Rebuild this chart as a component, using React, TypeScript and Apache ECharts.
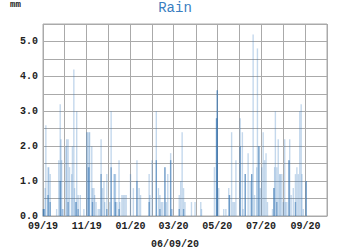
import React, { useEffect, useRef } from "react";
import * as echarts from "echarts";

// Daily rain (mm): faint tall readings
const rainDates = [
  "2019-09-01","2019-09-02","2019-09-03","2019-09-04","2019-09-05","2019-09-08","2019-09-09","2019-09-11","2019-09-20","2019-09-23",
  "2019-09-25","2019-09-26","2019-09-27","2019-09-28","2019-09-29","2019-10-03","2019-10-04","2019-10-06","2019-10-08","2019-10-11",
  "2019-10-12","2019-10-14","2019-10-15","2019-10-17","2019-10-18","2019-10-20","2019-10-23","2019-10-28","2019-11-01","2019-11-02",
  "2019-11-03","2019-11-04","2019-11-05","2019-11-08","2019-11-09","2019-11-11","2019-11-12","2019-11-14","2019-11-17","2019-11-19",
  "2019-11-21","2019-11-23","2019-11-25","2019-11-26","2019-11-29","2019-12-03","2019-12-05","2019-12-09","2019-12-10","2019-12-11",
  "2019-12-13","2019-12-16","2019-12-17","2019-12-20","2019-12-22","2019-12-24","2019-12-26","2020-01-01","2020-01-05","2020-01-10",
  "2020-01-13","2020-01-15","2020-01-27","2020-01-28","2020-01-31","2020-02-06","2020-02-09","2020-02-11","2020-02-13","2020-02-15",
  "2020-02-18","2020-02-20","2020-02-22","2020-02-26","2020-02-27","2020-02-28","2020-03-09","2020-03-11","2020-03-13","2020-03-15",
  "2020-03-17","2020-03-26","2020-03-31","2020-04-08","2020-04-09","2020-04-27","2020-04-30","2020-05-01","2020-05-03","2020-05-10",
  "2020-05-13","2020-05-17","2020-05-18","2020-05-21","2020-05-23","2020-05-25","2020-05-27","2020-06-02","2020-06-05","2020-06-06",
  "2020-06-09","2020-06-13","2020-06-16","2020-06-18","2020-06-20","2020-06-22","2020-06-25","2020-06-26","2020-06-28","2020-06-30",
  "2020-07-02","2020-07-04","2020-07-06","2020-07-08","2020-07-10","2020-07-17","2020-07-19","2020-07-20","2020-07-21","2020-07-23",
  "2020-07-25","2020-07-27","2020-07-28","2020-07-30","2020-08-01","2020-08-03","2020-08-04","2020-08-06","2020-08-09","2020-08-10",
  "2020-08-12","2020-08-15","2020-08-18","2020-08-20","2020-08-22","2020-08-24","2020-08-26","2020-08-27","2020-08-29","2020-09-02"
];
const rainValues = [
  0.2,0.2,0.2,0.8,2.6,1.4,1.4,1.2,0.2,1.6,
  3.2,2.2,1.6,0.2,0.2,2.0,2.2,2.2,1.4,1.2,
  2.0,4.2,0.8,0.4,3.0,0.6,0.6,0.2,2.4,2.4,
  1.4,2.4,2.4,2.0,0.8,0.8,0.6,0.4,0.2,0.2,
  2.2,0.8,1.0,0.4,1.2,0.4,3.0,1.2,1.2,1.2,
  0.4,1.6,0.4,0.6,0.6,0.6,0.6,1.2,0.8,1.6,
  0.8,0.6,1.2,0.6,1.6,3.0,0.8,0.6,0.4,0.4,
  1.4,0.4,1.2,1.8,0.2,0.2,0.6,1.0,2.4,0.8,
  0.4,0.4,0.4,0.4,0.2,1.4,2.8,3.6,0.8,0.2,
  0.2,0.8,0.6,2.4,0.4,0.4,1.6,2.8,2.4,0.2,
  1.2,1.8,1.0,1.2,5.2,0.6,1.4,4.8,2.0,0.8,
  1.4,2.4,1.6,1.8,0.4,0.2,0.8,1.4,3.0,1.4,
  2.2,1.2,1.2,1.2,0.4,2.2,0.4,0.4,1.6,2.2,
  0.6,0.8,1.2,1.4,1.2,3.0,3.2,1.2,0.2,1.0
];

// Darker (steadier) readings on the same days
const baseDates = [
  "2019-09-02","2019-09-08","2019-09-11","2019-09-25","2019-10-06","2019-10-17","2019-10-20","2019-11-04","2019-11-09","2019-11-21",
  "2019-11-29","2019-12-05","2019-12-11","2019-12-16","2020-01-10","2020-01-27","2020-02-06","2020-02-11","2020-02-18","2020-02-26",
  "2020-03-09","2020-03-15","2020-04-30","2020-05-01","2020-05-18","2020-06-02","2020-06-09","2020-06-18","2020-06-28","2020-07-19",
  "2020-07-23","2020-08-09","2020-08-18","2020-09-02"
];
const baseValues = [
  0.2,0.6,0.4,1.0,0.4,0.4,0.2,1.4,0.4,1.2,
  0.2,1.4,0.4,0.2,1.0,0.4,1.6,0.2,1.4,1.6,
  0.2,0.2,2.8,3.6,0.6,2.0,1.2,1.2,2.0,0.8,
  0.4,1.6,0.4,1.0
];

const yTicks = ["0.0", "1.0", "2.0", "3.0", "4.0", "5.0"];
const labelMonths = ["01", "03", "05", "07", "09", "11"];
const startDate = "2019-09-01";
const endDate = "2020-10-01";
const footerText = "06/09/20";

function buildDays(): string[] {
  const out: string[] = [];
  const d = new Date(startDate + "T00:00:00Z");
  const end = new Date(endDate + "T00:00:00Z");
  while (d.getTime() <= end.getTime()) {
    out.push(d.toISOString().slice(0, 10));
    d.setUTCDate(d.getUTCDate() + 1);
  }
  return out;
}

function toSeries(days: string[], dates: string[], values: number[]) {
  const map: Record<string, number> = {};
  dates.forEach((k, i) => (map[k] = values[i]));
  return days.map((k) => (k in map ? map[k] : null));
}

const MONO = "'Liberation Mono', 'Courier New', monospace";

export default function App() {
  const ref = useRef<HTMLDivElement>(null);
  useEffect(() => {
    if (!ref.current) return;
    const chart = echarts.init(ref.current, undefined, { renderer: "svg" });
    const days = buildDays();
    const isMonthStart = (_i: number, v: string) => v.slice(8, 10) === "01";
    chart.setOption({
      animation: false,
      title: {
        text: "Rain",
        left: "center",
        top: 1,
        padding: 0,
        textStyle: { fontFamily: MONO, fontSize: 14, fontWeight: "normal", color: "#3a7ebf" },
      },
      graphic: [
        { type: "text", left: 10, top: 0, style: { text: "mm", font: `bold 9px ${MONO}`, fill: "#222" } },
        { type: "text", left: "center", top: 239, style: { text: footerText, font: `bold 10px ${MONO}`, fill: "#222" } },
      ],
      grid: { left: 43, right: 23, top: 24, bottom: 34, show: true, borderColor: "#aaa", borderWidth: 1 },
      xAxis: {
        type: "category",
        data: days,
        boundaryGap: false,
        axisLine: { show: true, lineStyle: { color: "#aaa" } },
        axisTick: { show: false },
        splitLine: { show: true, interval: isMonthStart, lineStyle: { color: "#aaa", width: 1 } },
        axisLabel: {
          interval: (_i: number, v: string) =>
            v.slice(8, 10) === "01" && labelMonths.includes(v.slice(5, 7)) && v !== endDate,
          formatter: (v: string) => `${v.slice(5, 7)}/${v.slice(2, 4)}`,
          fontFamily: MONO,
          fontSize: 10,
          fontWeight: "bold",
          color: "#222",
          margin: 5,
        },
      },
      yAxis: {
        type: "value",
        min: 0,
        max: 5.5,
        interval: 0.5,
        axisLine: { show: false },
        axisTick: { show: false },
        splitLine: { show: true, lineStyle: { color: "#aaa", width: 1 } },
        axisLabel: {
          formatter: (v: number) => {
            const s = v.toFixed(1);
            return yTicks.includes(s) ? s : "";
          },
          fontFamily: MONO,
          fontSize: 10,
          fontWeight: "bold",
          color: "#222",
          margin: 5,
        },
      },
      series: [
        {
          type: "bar",
          data: toSeries(days, rainDates, rainValues),
          barWidth: 1.4,
          barGap: "-100%",
          itemStyle: { color: "rgba(58,126,191,0.3)" },
        },
        {
          type: "bar",
          data: toSeries(days, baseDates, baseValues),
          barWidth: 1.4,
          barGap: "-100%",
          itemStyle: { color: "rgba(40,105,170,0.5)" },
        },
      ],
    });
    return () => chart.dispose();
  }, []);
  return (
    <div
      ref={ref}
      style={{ position: "fixed", left: 0, top: 0, width: 350, height: 250, background: "#fff" }}
    />
  );
}
